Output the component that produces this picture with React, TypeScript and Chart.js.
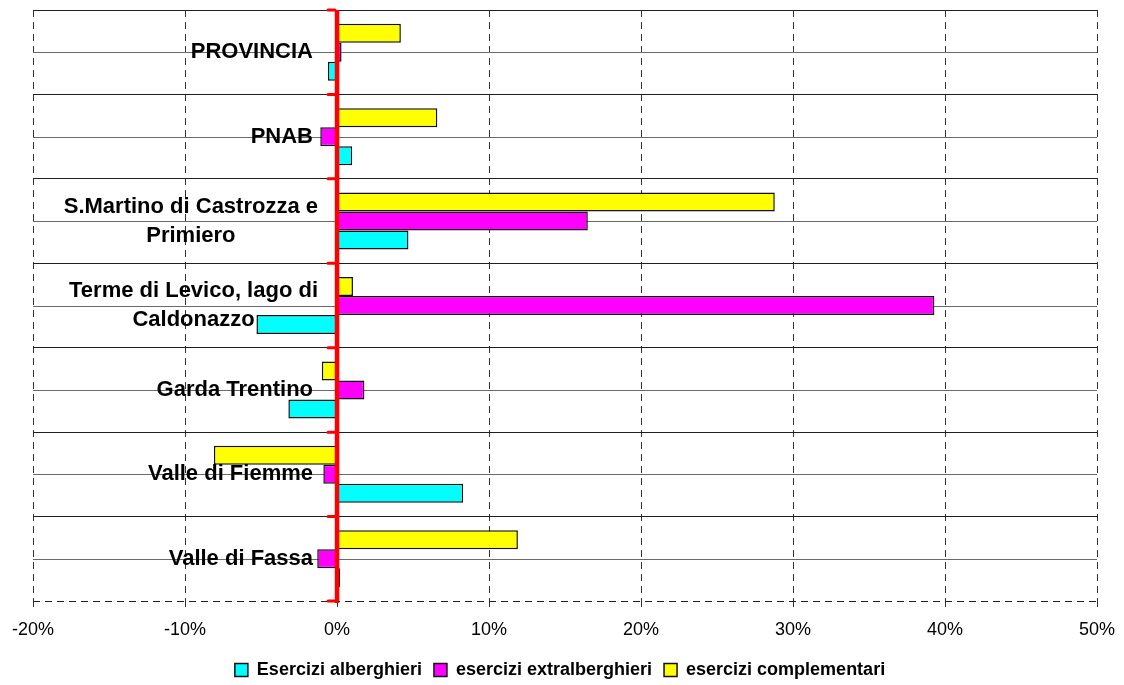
import React, { useEffect, useRef } from 'react';
import { Chart, registerables } from 'chart.js';

Chart.register(...registerables);

const categories: (string | string[])[] = [
  'PROVINCIA',
  'PNAB',
  ['S.Martino di Castrozza e', 'Primiero'],
  ['Terme di Levico, lago di', 'Caldonazzo'],
  'Garda Trentino',
  'Valle di Fiemme',
  'Valle di Fassa',
];

const seriesNames = ['Esercizi alberghieri', 'esercizi extralberghieri', 'esercizi complementari'];

// values in %
const alberghieri = [-0.6, 1.0, 4.7, -5.3, -3.2, 8.3, 0.2];
const extralberghieri = [0.3, -1.1, 16.5, 39.3, 1.8, -0.9, -1.3];
const complementari = [4.2, 6.6, 28.8, 1.05, -1.0, -8.1, 11.9];

const xMin = -20;
const xMax = 50;
const xStep = 10;

const FONT = "'Liberation Sans', Arial, Helvetica, sans-serif";

const overlayPlugin = {
  id: 'overlay',
  beforeDatasetsDraw(chart: any) {
    const { ctx, chartArea, scales } = chart;
    const y = scales.y;
    ctx.save();
    ctx.strokeStyle = '#6a6a6a';
    ctx.lineWidth = 1;
    for (let i = 0; i < categories.length; i++) {
      const py = Math.round(y.getPixelForValue(i)) + 0.5;
      ctx.beginPath();
      ctx.moveTo(chartArea.left, py);
      ctx.lineTo(chartArea.right, py);
      ctx.stroke();
    }
    ctx.strokeStyle = '#222';
    ctx.setLineDash([7, 5]);
    const by = Math.round(chartArea.bottom) + 0.5;
    ctx.beginPath();
    ctx.moveTo(chartArea.left, by);
    ctx.lineTo(chartArea.right, by);
    ctx.stroke();
    ctx.restore();
  },
  afterDatasetsDraw(chart: any) {
    const { ctx, chartArea, scales } = chart;
    const x = scales.x;
    const y = scales.y;
    const x0 = x.getPixelForValue(0);
    const half = (y.getPixelForValue(1) - y.getPixelForValue(0)) / 2;
    ctx.save();
    // red axis
    ctx.strokeStyle = '#ff0000';
    ctx.lineWidth = 4.5;
    ctx.beginPath();
    ctx.moveTo(x0, chartArea.top);
    ctx.lineTo(x0, chartArea.bottom + 2);
    ctx.stroke();
    ctx.lineWidth = 3;
    ctx.lineCap = 'round';
    for (let i = 0; i <= categories.length; i++) {
      const py = y.getPixelForValue(i) - half;
      ctx.beginPath();
      ctx.moveTo(x0 - 2, py);
      ctx.lineTo(x0 - 9, py);
      ctx.stroke();
    }
    // category labels
    ctx.fillStyle = '#000';
    ctx.font = `bold 22px ${FONT}`;
    ctx.textAlign = 'center';
    ctx.textBaseline = 'middle';
    const lh = 29;
    categories.forEach((cat, i) => {
      const lines = Array.isArray(cat) ? cat : [cat];
      const right = x0 - (lines.length > 1 ? 19 : 24);
      const w = Math.max(...lines.map((l) => ctx.measureText(l).width));
      const cx = right - w / 2;
      const cy = y.getPixelForValue(i);
      lines.forEach((l, j) => {
        ctx.fillText(l, cx, cy + (j - (lines.length - 1) / 2) * lh);
      });
    });
    ctx.restore();
  },
};

export default function App() {
  const ref = useRef<HTMLCanvasElement | null>(null);
  useEffect(() => {
    if (!ref.current) return;
    const bar = (label: string, data: number[], color: string) => ({
      label,
      data,
      backgroundColor: color,
      borderColor: '#111',
      borderWidth: 1.5,
      borderSkipped: false,
    });
    const chart = new Chart(ref.current, {
      type: 'bar',
      data: {
        labels: categories.map((c) => (Array.isArray(c) ? c.join(' ') : c)),
        datasets: [
          bar(seriesNames[2], complementari, '#ffff00'),
          bar(seriesNames[1], extralberghieri, '#ff00ff'),
          bar(seriesNames[0], alberghieri, '#00ffff'),
        ],
      },
      options: {
        indexAxis: 'y',
        animation: false,
        responsive: true,
        maintainAspectRatio: false,
        datasets: { bar: { categoryPercentage: 0.675, barPercentage: 1 } },
        layout: { padding: { left: 23, right: 31, top: 10, bottom: -4 } },
        plugins: {
          tooltip: { enabled: false },
          legend: {
            position: 'bottom',
            reverse: true,
            labels: {
              color: '#000',
              font: { family: FONT, size: 18, weight: 'bold' },
              boxWidth: 13,
              boxHeight: 13,
              padding: 12,
            },
          },
        },
        scales: {
          x: {
            type: 'linear',
            min: xMin,
            max: xMax,
            ticks: {
              stepSize: xStep,
              color: '#000',
              font: { family: FONT, size: 18 },
              padding: 12,
              callback: (v: any) => `${v}%`,
            },
            grid: {
              color: '#333',
              lineWidth: 1,
              tickLength: 6,
              tickBorderDash: [],
              tickColor: '#333',
            },
            border: { display: false, dash: [7, 5] },
            afterFit: (s: any) => {
              s.height = 48;
            },
          },
          y: {
            type: 'category',
            ticks: { display: false },
            grid: {
              drawTicks: false,
              color: (c: any) => (c.type === 'tick' ? '#1f1f1f' : 'rgba(0,0,0,0)'),
            },
            border: { display: false },
            afterFit: (s: any) => {
              s.width = 0;
            },
          },
        },
      },
      plugins: [overlayPlugin],
    });
    return () => chart.destroy();
  }, []);
  return (
    <div style={{ position: 'fixed', left: 0, top: 0, width: 1128, height: 685 }}>
      <canvas ref={ref} />
    </div>
  );
}
